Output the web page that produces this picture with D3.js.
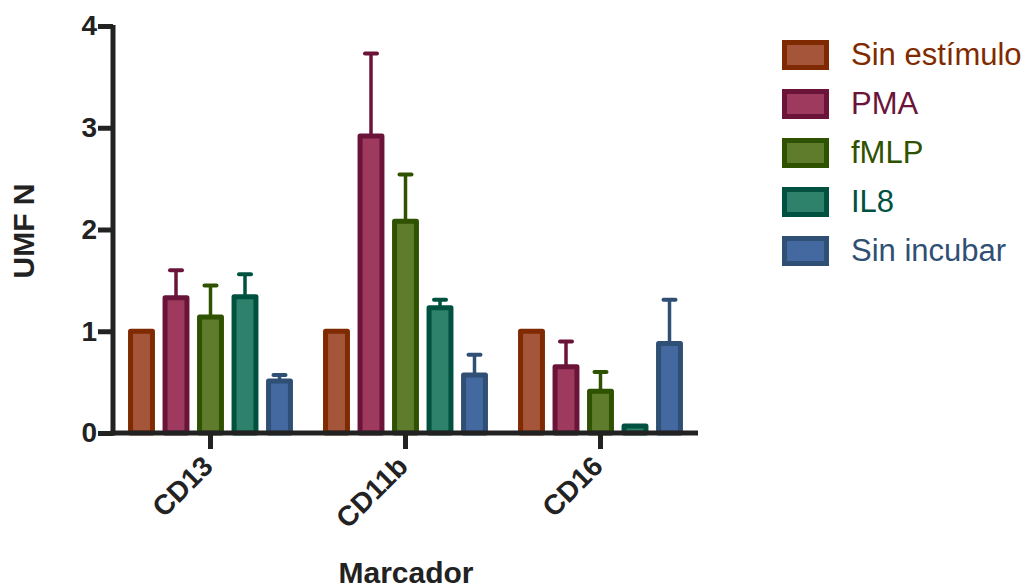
<!DOCTYPE html>
<html>
<head>
<meta charset="utf-8">
<script src="https://cdn.jsdelivr.net/npm/d3@7"></script>
<style>
  body { margin: 0; background: #fff; }
  text { font-family: "Liberation Sans", Arial, sans-serif; }
</style>
</head>
<body>
<svg id="chart"></svg>
<script>
// categories and series
var markers = ["CD13", "CD11b", "CD16"];
var series = ["Sin estímulo", "PMA", "fMLP", "IL8", "Sin incubar"];

// mean values per series (CD13, CD11b, CD16)
var sinEstimulo = [1.0, 1.0, 1.0];
var pma = [1.33, 2.92, 0.65];
var fmlp = [1.14, 2.08, 0.41];
var il8 = [1.34, 1.23, 0.07];
var sinIncubar = [0.51, 0.57, 0.88];

// upper error (SEM)
var sinEstimuloErr = [0, 0, 0];
var pmaErr = [0.27, 0.81, 0.25];
var fmlpErr = [0.31, 0.46, 0.19];
var il8Err = [0.22, 0.08, 0];
var sinIncubarErr = [0.06, 0.20, 0.43];

var yTicks = [0, 1, 2, 3, 4];

var fills = ["#a5553a", "#9e3a5e", "#5f7b2c", "#2e826b", "#4369a0"];
var strokes = ["#7f2a00", "#6b1439", "#2f5200", "#00513f", "#2f4f74"];

var values = [sinEstimulo, pma, fmlp, il8, sinIncubar];
var errs = [sinEstimuloErr, pmaErr, fmlpErr, il8Err, sinIncubarErr];

var svg = d3.select("#chart")
    .attr("width", 1026)
    .attr("height", 588);

var x0 = d3.scaleBand()
    .domain(markers)
    .range([113, 698])
    .padding(0);

var x1 = d3.scaleBand()
    .domain(series)
    .range([0, x0.bandwidth()])
    .paddingInner(0.22)
    .paddingOuter(0.436);

var y = d3.scaleLinear()
    .domain([0, 4])
    .range([433, 26]);

// build rows for bars
var rows = [];
markers.forEach(function(m, i) {
    series.forEach(function(s, j) {
        rows.push({ marker: m, s: s, j: j, v: values[j][i], e: errs[j][i] });
    });
});

var sw = 5;

// error bars
var eb = svg.append("g");
rows.filter(function(d) { return d.e > 0; }).forEach(function(d) {
    var cx = x0(d.marker) + x1(d.s) + x1.bandwidth() / 2;
    eb.append("line")
        .attr("x1", cx).attr("x2", cx)
        .attr("y1", y(d.v)).attr("y2", y(d.v + d.e))
        .attr("stroke", strokes[d.j])
        .attr("stroke-width", 3.5);
    eb.append("line")
        .attr("x1", cx - 6).attr("x2", cx + 6)
        .attr("y1", y(d.v + d.e)).attr("y2", y(d.v + d.e))
        .attr("stroke", strokes[d.j])
        .attr("stroke-width", 4)
        .attr("stroke-linecap", "round");
});

// bars
svg.append("g").selectAll("rect")
    .data(rows)
    .join("rect")
    .attr("x", function(d) { return x0(d.marker) + x1(d.s) + sw / 2; })
    .attr("y", function(d) { return y(d.v); })
    .attr("width", x1.bandwidth() - sw)
    .attr("height", function(d) { return y(0) - y(d.v); })
    .attr("fill", function(d) { return fills[d.j]; })
    .attr("stroke", function(d) { return strokes[d.j]; })
    .attr("stroke-width", sw)
    .attr("stroke-linejoin", "round");

// y axis
var yAxis = svg.append("g")
    .attr("transform", "translate(113,0)")
    .call(d3.axisLeft(y).tickValues(yTicks).tickSize(15).tickPadding(1).tickFormat(d3.format("d")));
yAxis.select(".domain").remove();
yAxis.selectAll(".tick line").attr("stroke", "#222").attr("stroke-width", 5);
yAxis.selectAll(".tick text")
    .attr("fill", "#222")
    .style("font-size", "28px")
    .style("font-weight", "bold");
svg.append("line")
    .attr("x1", 113).attr("x2", 113)
    .attr("y1", y(4) - 1).attr("y2", y(0) + 2.5)
    .attr("stroke", "#222").attr("stroke-width", 5);

// x axis
var xAxis = svg.append("g")
    .attr("transform", "translate(0,433)")
    .call(d3.axisBottom(x0).tickSize(16).tickFormat(""));
xAxis.select(".domain").remove();
xAxis.selectAll(".tick line").attr("stroke", "#222").attr("stroke-width", 5);
svg.append("line")
    .attr("x1", 110.5).attr("x2", 698)
    .attr("y1", 433).attr("y2", 433)
    .attr("stroke", "#222").attr("stroke-width", 5);

// category labels, rotated
svg.append("g").selectAll("text")
    .data(markers)
    .join("text")
    .attr("transform", function(d) {
        return "translate(" + (x0(d) + x0.bandwidth() / 2 + 4) + ",468) rotate(-45)";
    })
    .attr("text-anchor", "end")
    .attr("fill", "#222")
    .style("font-size", "28px")
    .style("font-weight", "bold")
    .text(function(d) { return d; });

// axis titles
svg.append("text")
    .attr("x", 406)
    .attr("y", 583)
    .attr("text-anchor", "middle")
    .attr("fill", "#222")
    .style("font-size", "30px")
    .style("font-weight", "bold")
    .text("Marcador");

svg.append("text")
    .attr("transform", "translate(34,231) rotate(-90)")
    .attr("text-anchor", "middle")
    .attr("fill", "#222")
    .style("font-size", "30px")
    .style("font-weight", "bold")
    .text("UMF N");

// legend
var legend = svg.append("g");
series.forEach(function(s, j) {
    var ly = 40 + j * 49;
    legend.append("rect")
        .attr("x", 784.5).attr("y", ly + 2.5)
        .attr("width", 42).attr("height", 25)
        .attr("fill", fills[j])
        .attr("stroke", strokes[j])
        .attr("stroke-width", sw);
    legend.append("text")
        .attr("x", 851).attr("y", ly + 25)
        .attr("fill", strokes[j])
        .style("font-size", "31px")
        .text(s);
});
</script>
</body>
</html>
